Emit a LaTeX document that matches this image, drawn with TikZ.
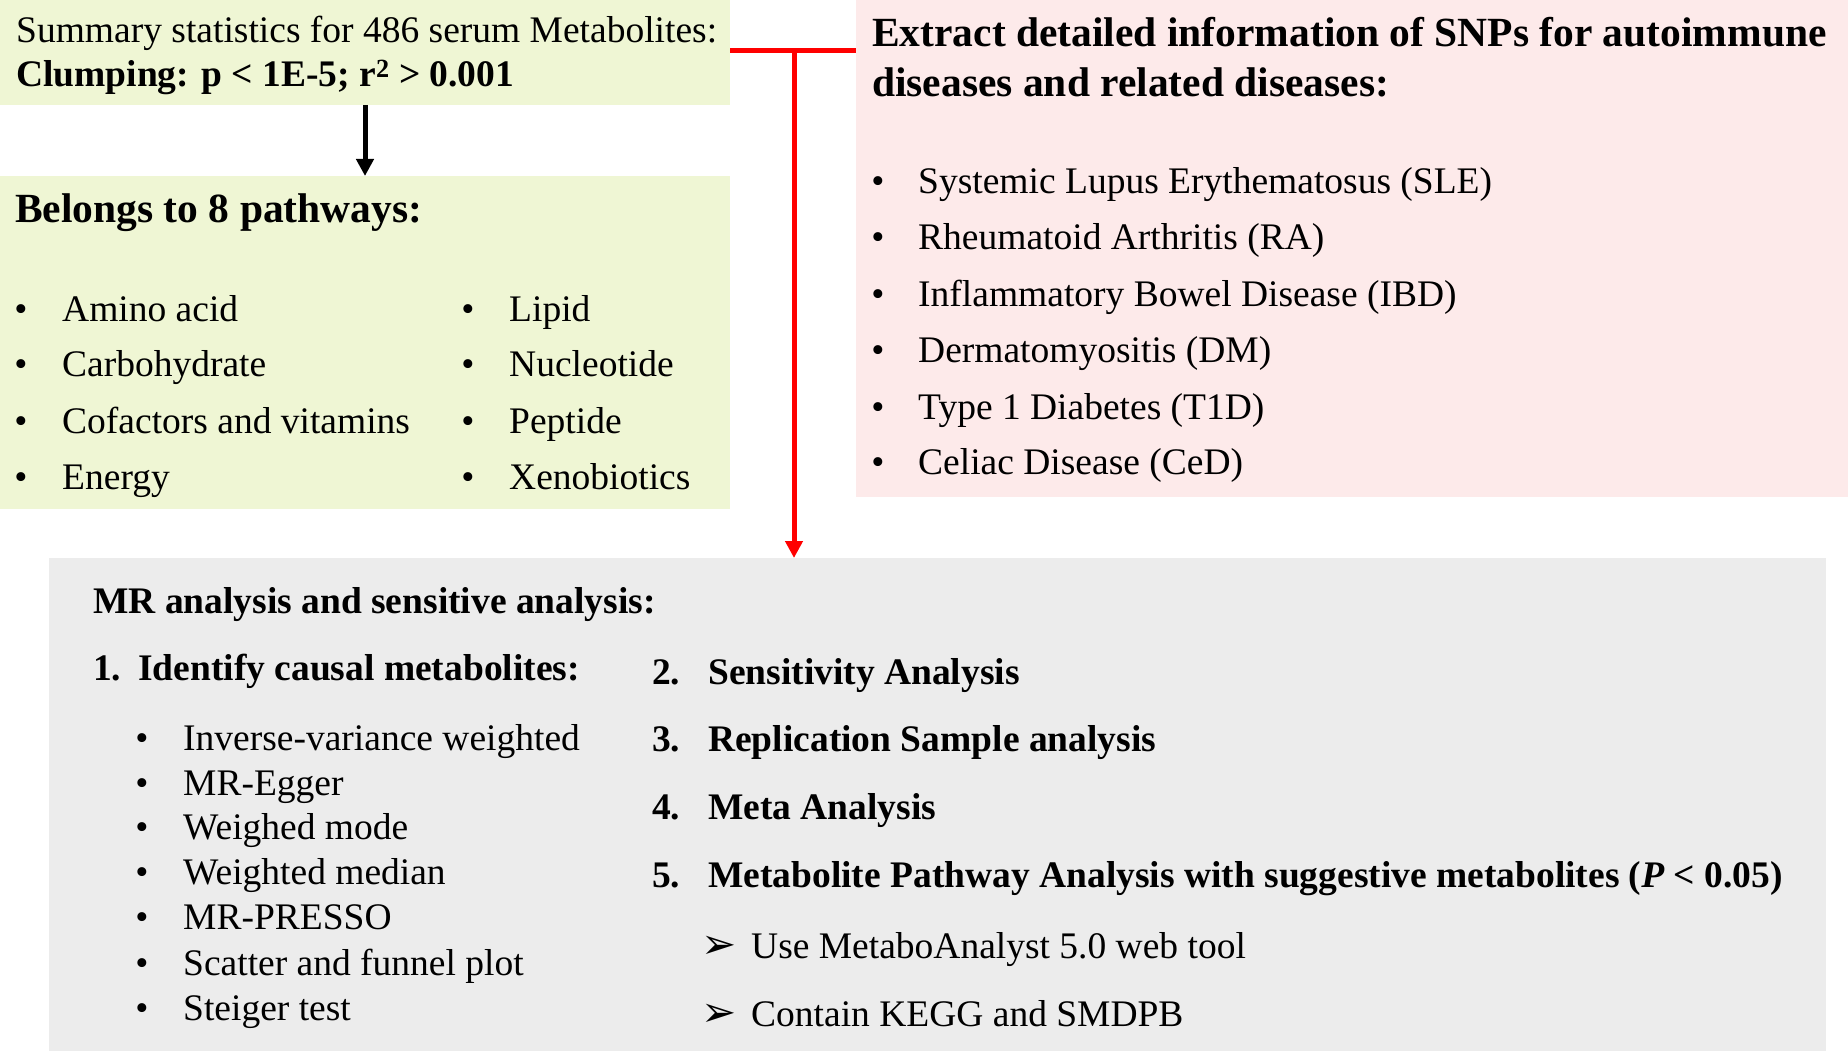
\documentclass[tikz,border=0pt]{standalone}
\usepackage{fontspec}
\setmainfont{Liberation Serif}
\newfontfamily\dejavu{DejaVu Sans}
\usetikzlibrary{arrows.meta}
\definecolor{boxgreen}{RGB}{239,246,212}
\definecolor{boxpink}{RGB}{253,234,234}
\definecolor{boxgray}{RGB}{236,236,236}
\definecolor{linered}{RGB}{255,0,0}
\begin{document}
\begin{tikzpicture}[x=1pt,y=-1pt,
  panel/.style={draw=none, inner sep=0pt, outer sep=0pt, anchor=north west},
  txt/.style={anchor=base west, inner sep=0pt, font=\fontsize{37.5}{44}\selectfont},
  btxt/.style={anchor=base west, inner sep=0pt, font=\fontsize{37.5}{44}\selectfont\bfseries},
  bigb/.style={anchor=base west, inner sep=0pt, font=\fontsize{41.5}{48}\selectfont\bfseries},
  bul/.style={anchor=base, inner sep=0pt, font=\fontsize{37.5}{44}\selectfont},
  arr/.style={anchor=base west, inner sep=0pt, font=\fontsize{42}{48}\dejavu},
  conn/.style={line width=5pt, -{Triangle[width=17pt,length=17pt]}},
]
\useasboundingbox (0,0) rectangle (1848,1051);
\fill[white] (0,0) rectangle (1848,1051);

% panels
\node[panel, fill=boxgreen, minimum width=730pt, minimum height=105pt] (sum) at (0,0) {};
\node[panel, fill=boxgreen, minimum width=730pt, minimum height=333pt] (path) at (0,176) {};
\node[panel, fill=boxpink, minimum width=992pt, minimum height=497pt] (snp) at (856,0) {};
\node[panel, fill=boxgray, minimum width=1777pt, minimum height=493pt] (mr) at (49,558) {};

% box 1
\node[txt] (s1) at (16,43) {Summary statistics for 486 serum Metabolites:};
\node[btxt] (s2) at (16,87) {Clumping: p < 1E-5; r\textsuperscript{2} > 0.001};

% box 2
\node[bigb] (p0) at (15,223) {Belongs to 8 pathways:};
\node[bul] (pb1) at (21,321) {•}; \node[txt] (p1) at (62,321) {Amino acid};
\node[bul] (pb2) at (21,376) {•}; \node[txt] (p2) at (62,376) {Carbohydrate};
\node[bul] (pb3) at (21,433) {•}; \node[txt] (p3) at (62,433) {Cofactors and vitamins};
\node[bul] (pb4) at (21,489) {•}; \node[txt] (p4) at (62,489) {Energy};
\node[bul] (pb5) at (468,321) {•}; \node[txt] (p5) at (509,321) {Lipid};
\node[bul] (pb6) at (468,376) {•}; \node[txt] (p6) at (509,376) {Nucleotide};
\node[bul] (pb7) at (468,433) {•}; \node[txt] (p7) at (509,433) {Peptide};
\node[bul] (pb8) at (468,489) {•}; \node[txt] (p8) at (509,489) {Xenobiotics};

% pink box
\node[bigb] (e1) at (872,47) {Extract detailed information of SNPs for autoimmune};
\node[bigb] (e2) at (872,97) {diseases and related diseases:};
\node[bul] (eb1) at (878,194) {•}; \node[txt] (d1) at (918,194) {Systemic Lupus Erythematosus (SLE)};
\node[bul] (eb2) at (878,250) {•}; \node[txt] (d2) at (918,250) {Rheumatoid Arthritis (RA)};
\node[bul] (eb3) at (878,306) {•}; \node[txt] (d3) at (918,306) {Inflammatory Bowel Disease (IBD)};
\node[bul] (eb4) at (878,362) {•}; \node[txt] (d4) at (918,362) {Dermatomyositis (DM)};
\node[bul] (eb5) at (878,419) {•}; \node[txt] (d5) at (918,419) {Type 1 Diabetes (T1D)};
\node[bul] (eb6) at (878,474) {•}; \node[txt] (d6) at (918,474) {Celiac Disease (CeD)};

% gray box
\node[btxt] (m0) at (93,613) {MR analysis and sensitive analysis:};
\node[btxt] (n1) at (93,680) {1.}; \node[btxt] (t1) at (138,680) {Identify causal metabolites:};
\node[bul] (mb1) at (142,750) {•}; \node[txt] (m1) at (183,750) {Inverse-variance weighted};
\node[bul] (mb2) at (142,795) {•}; \node[txt] (m2) at (183,795) {MR-Egger};
\node[bul] (mb3) at (142,839) {•}; \node[txt] (m3) at (183,839) {Weighed mode};
\node[bul] (mb4) at (142,884) {•}; \node[txt] (m4) at (183,884) {Weighted median};
\node[bul] (mb5) at (142,929) {•}; \node[txt] (m5) at (183,929) {MR-PRESSO};
\node[bul] (mb6) at (142,975) {•}; \node[txt] (m6) at (183,975) {Scatter and funnel plot};
\node[bul] (mb7) at (142,1020) {•}; \node[txt] (m7) at (183,1020) {Steiger test};

\node[btxt] (n2) at (652,684) {2.}; \node[btxt] (t2) at (708,684) {Sensitivity Analysis};
\node[btxt] (n3) at (652,751) {3.}; \node[btxt] (t3) at (708,751) {Replication Sample analysis};
\node[btxt] (n4) at (652,819) {4.}; \node[btxt] (t4) at (708,819) {Meta Analysis};
\node[btxt] (n5) at (652,887) {5.}; \node[btxt] (t5) at (708,887) {Metabolite Pathway Analysis with suggestive metabolites (\textit{P} < 0.05)};
\node[arr] (a1) at (701,958) {➢}; \node[txt] (u1) at (751,958) {Use MetaboAnalyst 5.0 web tool};
\node[arr] (a2) at (701,1026) {➢}; \node[txt] (u2) at (751,1026) {Contain KEGG and SMDPB};

% connectors
\draw[conn, black] (sum.south) -- (path.north);
\coordinate (jn) at (794,51);
\draw[linered, line width=5pt] (sum.east |- jn) -- (snp.west |- jn);
\draw[conn, linered] (jn) -- (jn |- mr.north);
\end{tikzpicture}
\end{document}
